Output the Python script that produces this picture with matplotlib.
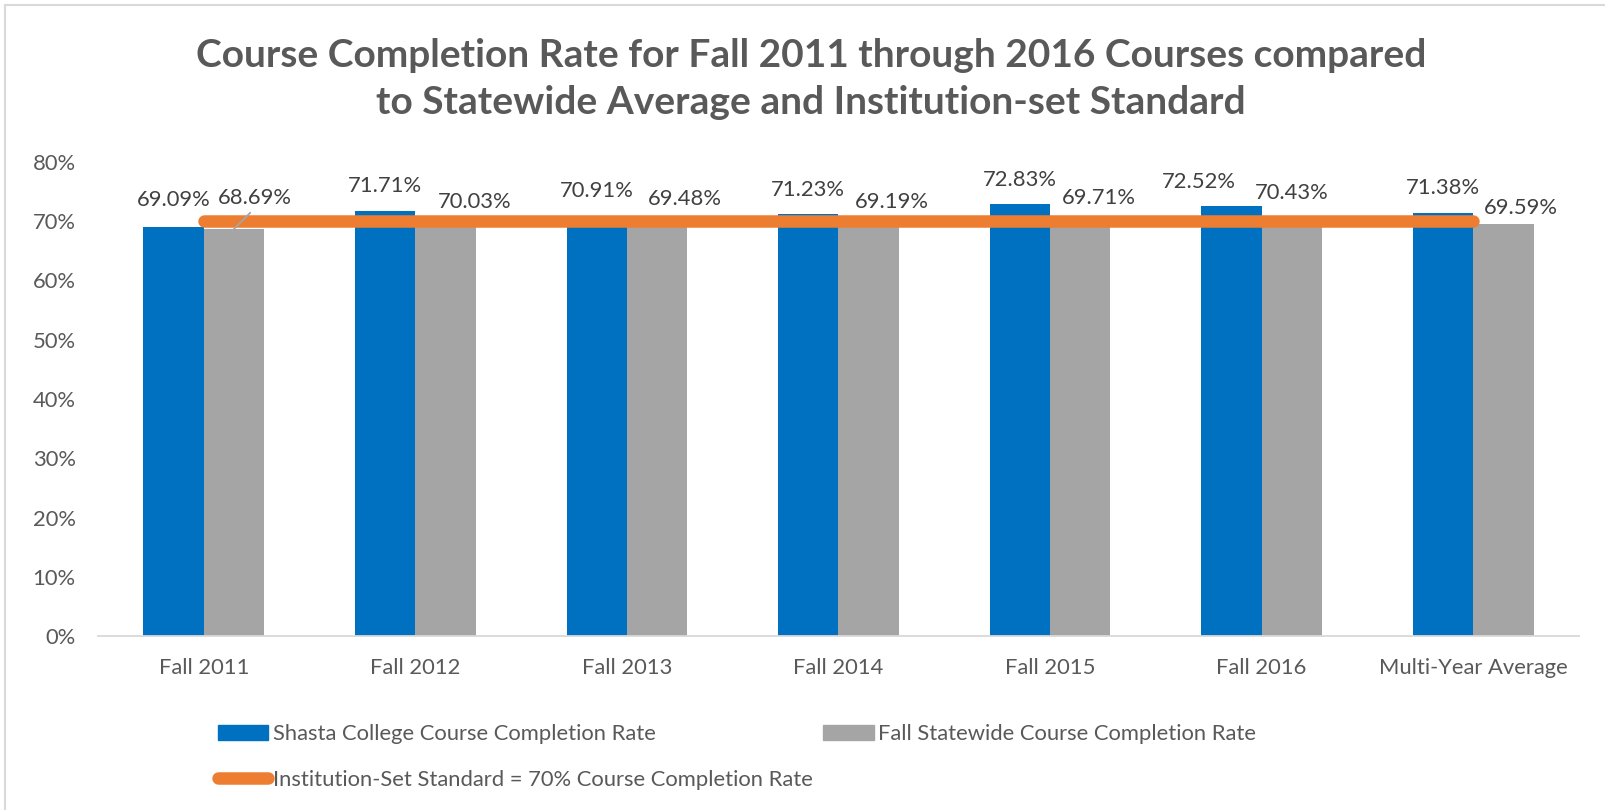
import matplotlib
matplotlib.use("Agg")
import matplotlib.pyplot as plt
from matplotlib.patches import Rectangle
from matplotlib.lines import Line2D
from matplotlib.ticker import PercentFormatter
import numpy as np

categories = ["Fall 2011", "Fall 2012", "Fall 2013", "Fall 2014", "Fall 2015", "Fall 2016", "Multi-Year Average"]
shasta = [69.09, 71.71, 70.91, 71.23, 72.83, 72.52, 71.38]
statewide = [68.69, 70.03, 69.48, 69.19, 69.71, 70.43, 69.59]
standard = [70, 70, 70, 70, 70, 70, 70]

title = "Course Completion Rate for Fall 2011 through 2016 Courses compared\nto Statewide Average and Institution-set Standard"
lab_shasta = "Shasta College Course Completion Rate"
lab_state = "Fall Statewide Course Completion Rate"
lab_std = "Institution-Set Standard = 70% Course Completion Rate"

# label nudges (pixels): horizontal shift from bar centre, height of label centre above bar top
shasta_dx = [0, 0, 0, 0, 0, -33, 0]
shasta_dy = [27, 25, 25, 24, 24, 24, 25]
state_dx = [21, 29, 28, 23, 19, 0, 18]
state_dy = [31, 19, 25, 24, 25, 26, 16]

BLUE = "#0070C0"
GRAY = "#A5A5A5"
ORANGE = "#ED7D31"
TXT = "#595959"
LBL = "#404040"

plt.rcParams['font.family'] = ['Lato', 'DejaVu Sans']

fig = plt.figure(figsize=(16.06, 8.10), dpi=100)
fig.patches.append(Rectangle((5/1606, -0.1), 1.2, (810-5)/810 + 0.1, transform=fig.transFigure,
                             fill=False, edgecolor="#D9D9D9", linewidth=1.5))

ax = fig.add_axes([98/1606, 174/810, (1579-98)/1606, (636-162)/810])
x = np.arange(len(categories))
w = 0.285
ax.bar(x - w/2, shasta, w, color=BLUE, zorder=2)
ax.bar(x + w/2, statewide, w, color=GRAY, zorder=2)
ax.plot(x, standard, color=ORANGE, linewidth=9, solid_capstyle='round', zorder=3)

fs = 15.8
px = 0.72  # points per pixel at 100 dpi
for i, v in enumerate(shasta):
    ax.annotate(f"{v:.2f}%", (x[i] - w/2, v), xytext=(shasta_dx[i]*px, shasta_dy[i]*px),
                textcoords='offset points', ha='center', va='center', fontsize=fs, color=LBL, zorder=4)
for i, v in enumerate(statewide):
    if i == 0:
        ax.annotate(f"{v:.2f}%", (x[i] + w/2, v), xytext=(state_dx[i]*px, state_dy[i]*px),
                    textcoords='offset points', ha='center', va='center', fontsize=fs, color=LBL, zorder=4,
                    arrowprops=dict(arrowstyle='-', color=GRAY, lw=1.3, relpos=(0.5, 0.0),
                                    shrinkA=2, shrinkB=0))
    else:
        ax.annotate(f"{v:.2f}%", (x[i] + w/2, v), xytext=(state_dx[i]*px, state_dy[i]*px),
                    textcoords='offset points', ha='center', va='center', fontsize=fs, color=LBL, zorder=4)

ax.set_xlim(-0.5, len(categories) - 0.5)
ax.set_ylim(0, 80)
ax.set_yticks(np.arange(0, 81, 10))
ax.yaxis.set_major_formatter(PercentFormatter(decimals=0))
ax.set_xticks(x)
ax.set_xticklabels(categories)
ax.tick_params(axis='both', length=0, labelsize=fs, colors=TXT)
ax.tick_params(axis='y', pad=16)
ax.tick_params(axis='x', pad=16)
for s in ['top', 'right', 'left']:
    ax.spines[s].set_visible(False)
ax.spines['bottom'].set_color("#D9D9D9")
ax.spines['bottom'].set_linewidth(1.3)

fig.text(811/1606, 1 - 79/810, title, ha='center', va='center', fontsize=28,
         fontweight='bold', color=TXT, linespacing=1.43)

handles = [Rectangle((0, 0), 1, 1, color=BLUE),
           Line2D([0], [0], color=ORANGE, linewidth=9, solid_capstyle='round'),
           Rectangle((0, 0), 1, 1, color=GRAY)]
labels = [lab_shasta, lab_std, lab_state]
leg = fig.legend(handles, labels, ncol=2, loc='center left', bbox_to_anchor=(198/1606, 1 - 757/810),
                 frameon=False, fontsize=fs, labelcolor=TXT, handlelength=2.3, handletextpad=0.2,
                 columnspacing=0.5, labelspacing=1.15, handleheight=0.68)

fig.savefig("out.png", dpi=100, facecolor="white")
